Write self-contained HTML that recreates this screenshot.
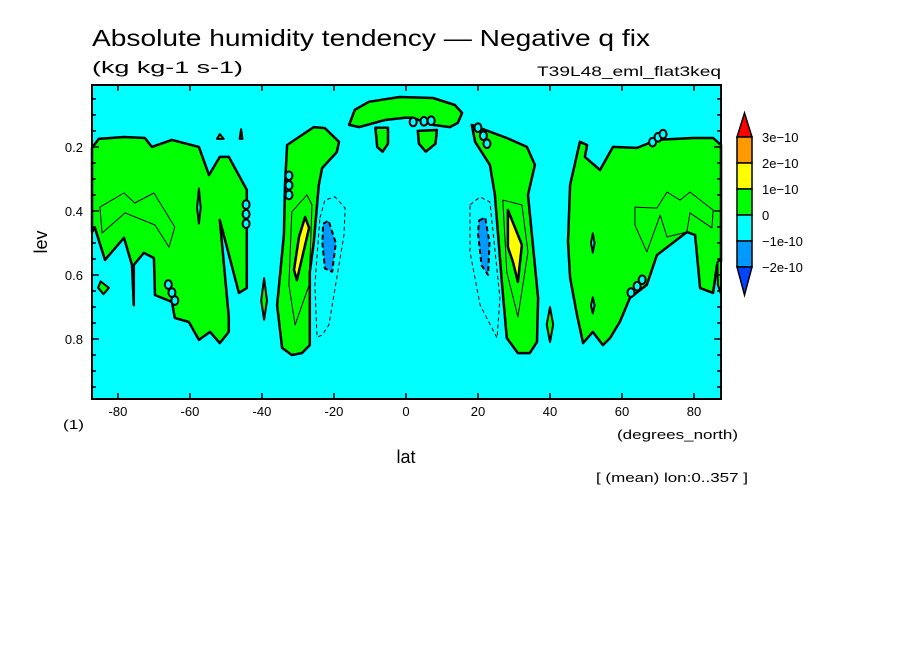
<!DOCTYPE html>
<html><head><meta charset="utf-8"><style>
body{margin:0;background:#fff;}
svg{display:block;font-family:"Liberation Sans",sans-serif;}
</style></head><body>
<svg id="chart" width="904" height="654" xmlns="http://www.w3.org/2000/svg">
<rect width="904" height="654" fill="#fff"/>
<text x="92" y="46" font-size="23" textLength="558" lengthAdjust="spacingAndGlyphs">Absolute humidity tendency — Negative q fix</text>
<text x="92" y="73" font-size="17" textLength="151" lengthAdjust="spacingAndGlyphs">(kg kg-1 s-1)</text>
<text x="537" y="76" font-size="14" textLength="184" lengthAdjust="spacingAndGlyphs">T39L48_eml_flat3keq</text>
<g id="plot"></g>
<g id="axes"></g>
<g id="cbar"></g>
<text x="47" y="242" font-size="18" text-anchor="middle" transform="rotate(-90 47 242)">lev</text>
<text x="63" y="429" font-size="13" textLength="21" lengthAdjust="spacingAndGlyphs">(1)</text>
<text x="406" y="463" font-size="18" text-anchor="middle">lat</text>
<text x="617" y="439" font-size="13" textLength="121" lengthAdjust="spacingAndGlyphs">(degrees_north)</text>
<text x="596" y="482" font-size="13" textLength="152" lengthAdjust="spacingAndGlyphs">[ (mean) lon:0..357 ]</text>
</svg>
<script>
// axis ranges
const latMin=-87.2, latMax=87.5, levMin=0.0065, levMax=0.9875;
const xTicks=[-80,-60,-40,-20,0,20,40,60,80];
const yTicks=[0.2,0.4,0.6,0.8];
const cbarLevels=["3e-10","2e-10","1e-10","0","-1e-10","-2e-10"];
const cbarColors=["#ff0000","#ff9900","#ffff00","#00ff00","#00ffff","#0099ff","#0044ff"];
// filled regions [lat, lev]
const greenLeft=[[-87.2,0.203],[-85.3,0.175],[-78.3,0.169],[-72.5,0.172],[-70.6,0.2],[-65,0.178],[-57.5,0.2],[-54.7,0.288],[-51.7,0.231],[-49.2,0.231],[-44.2,0.334],[-44.2,0.641],[-46.4,0.656],[-51.7,0.428],[-49.2,0.731],[-49.2,0.778],[-51.7,0.813],[-54.4,0.778],[-57.5,0.803],[-60.3,0.747],[-64.2,0.734],[-65,0.684],[-69.7,0.663],[-70,0.547],[-72.8,0.531],[-75.6,0.569],[-75.6,0.694],[-76.1,0.569],[-78.3,0.484],[-83.6,0.553],[-86.4,0.453],[-87.2,0.466]];
const lineLeft=[[-85,0.388],[-78.3,0.344],[-75.3,0.375],[-70,0.344],[-64.2,0.45],[-65.8,0.513],[-69.7,0.444],[-78,0.406],[-84.4,0.469]];
const greenS30=[[-33,0.194],[-29.7,0.169],[-25.6,0.138],[-22.5,0.141],[-18.6,0.184],[-19.2,0.216],[-23.3,0.266],[-24.2,0.319],[-25.6,0.497],[-26.7,0.591],[-26.7,0.819],[-28.9,0.844],[-31.7,0.85],[-34.4,0.828],[-35.8,0.694],[-33.9,0.475],[-33.6,0.319]];
const lineS30=[[-31.7,0.403],[-27.5,0.35],[-26.1,0.381],[-26.9,0.631],[-30.8,0.756],[-32.5,0.631]];
const yellowS30=[[-28,0.419],[-26.9,0.453],[-30.3,0.616],[-31.1,0.584],[-29.7,0.481]];
const dashS20=[[-23.9,0.422],[-22.5,0.366],[-19.7,0.356],[-16.9,0.391],[-17.2,0.475],[-21.4,0.756],[-23.3,0.788],[-24.7,0.794],[-25.3,0.631]];
const blueS20=[[-23,0.44],[-21.5,0.43],[-19.5,0.5],[-20.5,0.59],[-22.5,0.58],[-23.2,0.5]];
const greenTop=[[-15.8,0.131],[-14.2,0.084],[-10.3,0.059],[-1.7,0.044],[7.5,0.047],[13.6,0.069],[15.6,0.094],[14.4,0.125],[12.2,0.138],[7.5,0.131],[1.9,0.109],[-0.3,0.109],[-5.8,0.116],[-13,0.138]];
const greenDropL=[[-8.5,0.14],[-5,0.14],[-5,0.19],[-6.5,0.215],[-8,0.2]];
const greenDropR=[[3.3,0.15],[8.6,0.147],[8.2,0.19],[5.5,0.215],[3.6,0.19]];
const greenN30=[[18.3,0.131],[20.6,0.141],[28,0.172],[33.6,0.2],[35.8,0.256],[33.9,0.35],[36.7,0.672],[36.4,0.809],[34.4,0.844],[31.1,0.844],[28,0.797],[26.7,0.631],[24.7,0.35],[23.3,0.256],[19.2,0.184]];
const lineN30=[[26.9,0.366],[32.2,0.381],[33.9,0.528],[31.1,0.731],[28,0.591]];
const yellowN30=[[28.3,0.397],[32.2,0.506],[31.1,0.622],[29.7,0.559],[28.3,0.513]];
const dashN20=[[17.8,0.381],[20.6,0.356],[23.3,0.372],[26.1,0.672],[25.3,0.797],[20.6,0.694],[17.8,0.528]];
const blueN20=[[20.3,0.43],[22,0.42],[23.2,0.5],[22.8,0.6],[21,0.57],[20,0.47]];
const greenRight=[[45.6,0.319],[48.3,0.184],[50.3,0.194],[49.7,0.231],[53.9,0.272],[57.5,0.2],[64.2,0.203],[69.7,0.178],[79.7,0.172],[85.3,0.172],[87.5,0.194],[87.5,0.559],[86.4,0.569],[85.3,0.656],[81.7,0.641],[80.3,0.475],[78,0.466],[69.7,0.538],[66.9,0.631],[62.2,0.672],[59.4,0.747],[56.7,0.797],[54.7,0.819],[51.9,0.778],[49.2,0.813],[47.5,0.725],[45.6,0.609],[45,0.497]];
const lineRight=[[63.6,0.388],[69.7,0.391],[72.5,0.341],[76.1,0.366],[78.9,0.341],[85.3,0.397],[85,0.453],[78.9,0.406],[78,0.466],[72.5,0.481],[70.6,0.413],[66.9,0.528],[63.6,0.444]];
const greenIslands=[[[-84.8,0.62],[-82.5,0.64],[-84,0.66],[-85.5,0.64]],[[-39.4,0.61],[-38.6,0.68],[-39.4,0.74],[-40.2,0.68]],[[40,0.70],[40.9,0.755],[40,0.81],[39.1,0.755]],[[-51.7,0.16],[-50.6,0.175],[-52.5,0.175]],[[-45.8,0.145],[-45.4,0.175],[-46.2,0.175]],[[86.5,0.56],[87.5,0.55],[87.5,0.66],[86.6,0.63]]];
const cyanHoles=[[[-57.5,0.33],[-57,0.39],[-57.5,0.44],[-58,0.39]],[[51.9,0.47],[52.4,0.5],[51.9,0.53],[51.4,0.5]],[[51.9,0.67],[52.4,0.695],[51.9,0.72],[51.4,0.695]]];
const ovals=[[-32.5,0.29],[-32.5,0.32],[-32.5,0.35],[-44.4,0.38],[-44.4,0.41],[-44.4,0.44],[-66,0.63],[-65,0.655],[-64.2,0.68],[20,0.14],[21.5,0.165],[22.5,0.19],[62.5,0.655],[64.2,0.635],[65.6,0.615],[68.5,0.185],[70,0.17],[71.4,0.16],[2,0.122],[5,0.12],[7,0.118]];

const X=v=>92+(v-latMin)/(latMax-latMin)*629;
const Y=v=>85+(v-levMin)/(levMax-levMin)*314;
const NS="http://www.w3.org/2000/svg";
const plotG=document.getElementById('plot');
function mk(tag,attrs,parent){const e=document.createElementNS(NS,tag);for(const k in attrs)e.setAttribute(k,attrs[k]);parent.appendChild(e);return e;}
function pts(a){return a.map(p=>X(p[0]).toFixed(1)+','+Y(p[1]).toFixed(1)).join(' ');}
const bg=mk('rect',{x:92,y:85,width:629,height:314,fill:'#00ffff'},plotG);


function poly(arr,fill,sw,name,dash){const e=mk('polygon',{points:pts(arr),fill:fill,stroke:'#000','stroke-width':sw,'stroke-linejoin':'round'},plotG);if(dash)e.setAttribute('stroke-dasharray',dash);

return e;}
[[greenLeft,'green-region-south-high'],[greenS30,'green-region-south-30'],[greenTop,'green-region-top'],[greenDropL,'green-drop-left'],[greenDropR,'green-drop-right'],[greenN30,'green-region-north-30'],[greenRight,'green-region-north-high']].forEach(g=>poly(g[0],'#00ff00',2.5,g[1]));
greenIslands.forEach(g=>poly(g,'#00ff00',2,'green-island'));
cyanHoles.forEach(g=>poly(g,'#00ffff',2,'cyan-hole'));
[lineLeft,lineS30,lineN30,lineRight].forEach(g=>poly(g,'none',1,'contour-1e-10'));
poly(yellowS30,'#ffff00',2.5,'yellow-region-south');
poly(yellowN30,'#ffff00',2.5,'yellow-region-north');
poly(dashS20,'none',1,'contour-neg-south','4,3');
poly(dashN20,'none',1,'contour-neg-north','4,3');
poly(blueS20,'#0099ff',2,'blue-region-south','5,3');
poly(blueN20,'#0099ff',2,'blue-region-north','5,3');
ovals.forEach(o=>{const e=mk('ellipse',{cx:X(o[0]),cy:Y(o[1]),rx:3.5,ry:4.3,fill:'#00ffff',stroke:'#000','stroke-width':2},plotG);

});
// axes
const ax=document.getElementById('axes');
const fr=mk('rect',{x:92,y:85,width:629,height:314,fill:'none',stroke:'#000','stroke-width':2},ax);


xTicks.forEach(t=>{const x=X(t);mk('line',{x1:x,x2:x,y1:399,y2:393,stroke:'#000','stroke-width':1.5},ax);mk('line',{x1:x,x2:x,y1:85,y2:91,stroke:'#000','stroke-width':1.5},ax);
const tx=mk('text',{x:x,y:416,'font-size':13,'text-anchor':'middle'},ax);tx.textContent=t;

});
for(let v=0.05;v<0.99;v+=0.05){const y=Y(v);const maj=Math.abs(v*10-Math.round(v*10))<0.01&&Math.round(v*10)%2==0;const l=maj?7:4;
mk('line',{x1:92,x2:92+l,y1:y,y2:y,stroke:'#000','stroke-width':1.5},ax);mk('line',{x1:721,x2:721-l,y1:y,y2:y,stroke:'#000','stroke-width':1.5},ax);}
yTicks.forEach(t=>{const tx=mk('text',{x:83,y:Y(t)+5,'font-size':13,'text-anchor':'end'},ax);tx.textContent=t.toFixed(1);

});
// colorbar
const cb=document.getElementById('cbar');
const cbTop=137,cbH=26,cx0=737,cw=15;
const tri1=mk('polygon',{points:`${cx0},${cbTop} ${cx0+cw},${cbTop} ${cx0+cw/2},${cbTop-24}`,fill:cbarColors[0],stroke:'#000','stroke-width':1.5},cb);


for(let i=1;i<=5;i++){const r=mk('rect',{x:cx0,y:cbTop+(i-1)*cbH,width:cw,height:cbH,fill:cbarColors[i],stroke:'#000','stroke-width':1.5},cb);

}
const tri2=mk('polygon',{points:`${cx0},${cbTop+5*cbH} ${cx0+cw},${cbTop+5*cbH} ${cx0+cw/2},${cbTop+5*cbH+28}`,fill:cbarColors[6],stroke:'#000','stroke-width':1.5},cb);


cbarLevels.forEach((s,i)=>{const tx=mk('text',{x:762,y:cbTop+i*cbH+5,'font-size':13},cb);tx.textContent=s.replace('-','−');

});
</script>
</body></html>
